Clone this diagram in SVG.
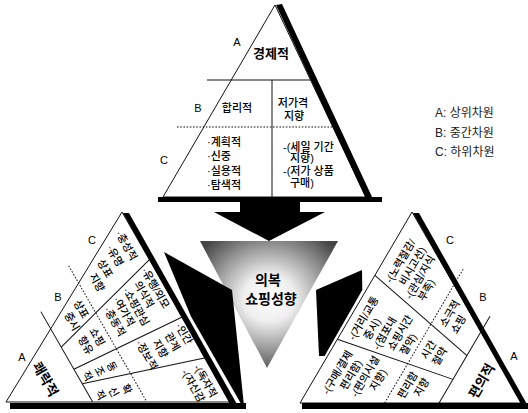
<svg xmlns="http://www.w3.org/2000/svg" width="528" height="413" viewBox="0 0 528 413">
<defs>
<style>
.t{font-family:'Liberation Sans','Noto Sans CJK KR',sans-serif;font-size:10.5px;font-weight:500;fill:#000}
.m{text-anchor:middle}
.b{font-weight:bold;font-size:13.5px;fill:#000}
.lb{font-size:11px;font-weight:normal}
.lg{font-size:12px;font-weight:normal;fill:#222}
.tt{font-size:11px}
.ln{stroke:#111;stroke-width:1;fill:none}
.dt{stroke-dasharray:1.6 1.6}
.tri{fill:#fff;stroke:#111;stroke-width:1}
.blk{fill:#000}
</style>
<radialGradient id="cg" cx="0.5" cy="0.45" r="0.62">
<stop offset="0" stop-color="#fff"/>
<stop offset="0.3" stop-color="#eee"/>
<stop offset="0.65" stop-color="#999"/>
<stop offset="1" stop-color="#444"/>
</radialGradient>
<clipPath id="clL"><polygon points="0,0 219,0 107,195"/></clipPath>
</defs>
<rect width="528" height="413" fill="#fff"/>

<g id="center">
<polygon points="200,241 338,241 267,368" fill="url(#cg)"/>
<text class="t b m" x="268" y="285" style="font-size:14px">의복</text>
<text class="t b m" x="271" y="304" style="font-size:14px">쇼핑성향</text>
</g>

<g id="connectors">
<polygon class="blk" points="240,200 300,200 300,212 325,212 269,241 214,212 240,212"/>
<polygon class="blk" points="164,252 232,290 244,406 242.3,406 191,316.6"/>
<polygon class="blk" points="362,270 316,290 319,356 324.6,356 362.3,290"/>
</g>

<g id="top-pyramid">
<polygon points="275,5 163,197 366,197" class="tri"/>
<polygon class="blk" points="276,5 282,4 373,199 366,199"/>
<rect class="blk" x="158" y="197" width="224" height="5"/>
<line class="ln" x1="207" y1="80" x2="310.5" y2="80"/>
<line class="ln dt" x1="177" y1="127" x2="332.8" y2="127"/>
<line class="ln" x1="272" y1="80" x2="272" y2="197"/>
<text class="t lb m" x="237" y="46">A</text>
<text class="t b m" x="271" y="58" style="font-size:13px">경제적</text>
<text class="t lb m" x="198" y="112">B</text>
<text class="t tt m" x="237" y="112">합리적</text>
<text class="t tt m" x="293" y="107">저가격</text>
<text class="t tt m" x="294" y="120">지향</text>
<text class="t lb m" x="164" y="164">C</text>
<text class="t tt" x="207" y="146">·계획적</text>
<text class="t tt" x="207" y="160">·신중</text>
<text class="t tt" x="207" y="175">·실용적</text>
<text class="t tt" x="207" y="189">·탐색적</text>
<text class="t tt" x="283" y="151">-(세일 기간</text>
<text class="t tt" x="290" y="162">지향)</text>
<text class="t tt" x="283" y="175">-(저가 상품</text>
<text class="t tt" x="290" y="187">구매)</text>
</g>

<g id="left-pyramid">
<polygon points="122,212 231,402 6,402" class="tri"/>
<polygon class="blk" points="123,213 129,213 238,406 231,406"/>
<rect class="blk" x="10" y="403" width="236" height="6"/>
<text class="t lb m" x="92" y="244">C</text>
<text class="t lb m" x="58" y="301">B</text>
<text class="t lb m" x="22" y="361">A</text>
<g transform="translate(122,212) rotate(60.15)">
<line class="ln dt" x1="20" y1="73" x2="177" y2="73"/>
<line class="ln" x1="46" y1="120" x2="150" y2="120"/>
<line class="ln" x1="55" y1="0" x2="87" y2="120"/>
<line class="ln" x1="121" y1="0" x2="112.4" y2="120"/>
<line class="ln" x1="168" y1="0" x2="129.2" y2="120"/>
<text class="t" x="15" y="16.5">·충성적</text>
<text class="t" x="23" y="31.5">·유명</text>
<text class="t" x="31" y="46.5">상표</text>
<text class="t" x="39" y="60.5">지향</text>
<text class="t" x="60" y="12.5">·유행/외모</text>
<text class="t" x="68" y="25.5">의식적</text>
<text class="t" x="68" y="38.5">·쇼핑관심</text>
<text class="t" x="71" y="51.5">·여가적</text>
<text class="t" x="75" y="64.5">·충동적</text>
<text class="t" x="125" y="10.5">·인간</text>
<text class="t" x="128" y="24.5">관계</text>
<text class="t" x="128" y="38.5">지향</text>
<text class="t" x="120" y="53.5">·정보적</text>
<g clip-path="url(#clL)">
<text class="t" x="170" y="15.5">-(독자적</text>
<text class="t" x="168" y="28.5">-(자신감</text>
</g>
<text class="t m" x="64" y="87.5">상표</text>
<text class="t m" x="70" y="101.5">중시</text>
<text class="t m" x="96" y="87.5">쇼핑</text>
<text class="t m" x="97.5" y="101.5">향유</text>
<text class="t m" x="129" y="89.5">동</text>
<text class="t m" x="127" y="102.5">조</text>
<text class="t m" x="125" y="115.5">적</text>
<text class="t m" x="156" y="87.5">확</text>
<text class="t m" x="152" y="100.5">신</text>
<text class="t m" x="148" y="113.5">적</text>
<text class="t b m" x="107" y="154.5">쾌락적</text>
</g>
</g>

<g id="right-pyramid">
<polygon points="412,212 522,403 300,403" class="tri"/>
<polygon class="blk" points="413,213 419,213 528,406 522,406"/>
<rect class="blk" x="302" y="403" width="226" height="6"/>
<text class="t lb m" x="450" y="244">C</text>
<text class="t lb m" x="483" y="301">B</text>
<text class="t lb m" x="514" y="360">A</text>
<g transform="translate(300,403) rotate(-59.6)">
<line class="ln dt" x1="42.8" y1="73" x2="198" y2="73"/>
<line class="ln" x1="70.3" y1="120" x2="171" y2="120"/>
<line class="ln" x1="74" y1="0" x2="97.8" y2="120"/>
<line class="ln" x1="148" y1="0" x2="125.4" y2="120"/>
<text class="t" x="21" y="20.5">-(구매/결제</text>
<text class="t" x="34" y="33.5">편리함)</text>
<text class="t" x="33" y="46.5">-(편의시설</text>
<text class="t" x="48" y="59.5">지향)</text>
<text class="t" x="81" y="15.5">-(거리/교통</text>
<text class="t" x="89" y="28.5">중시)</text>
<text class="t" x="85" y="41.5">-(점포내</text>
<text class="t" x="92" y="54.5">쇼핑시간</text>
<text class="t" x="94" y="67.5">절약)</text>
<text class="t" x="149" y="18.5">-(노력절감/</text>
<text class="t" x="154" y="31.5">비시고선)</text>
<text class="t" x="145" y="43.5">-(관심/지식</text>
<text class="t" x="150" y="55.5">부족)</text>
<text class="t m" x="70" y="87.5">편리함</text>
<text class="t m" x="75" y="100.5">지향</text>
<text class="t m" x="111" y="87.5">시간</text>
<text class="t m" x="111" y="100.5">절약</text>
<text class="t m" x="153" y="87.5">소극적</text>
<text class="t m" x="148" y="100.5">쇼핑</text>
<text class="t b m" x="111" y="150.5">편의적</text>
</g>
</g>

<g id="legend">
<text class="t lg" x="435" y="117">A: 상위차원</text>
<text class="t lg" x="435" y="137">B: 중간차원</text>
<text class="t lg" x="435" y="156">C: 하위차원</text>
</g>
</svg>
